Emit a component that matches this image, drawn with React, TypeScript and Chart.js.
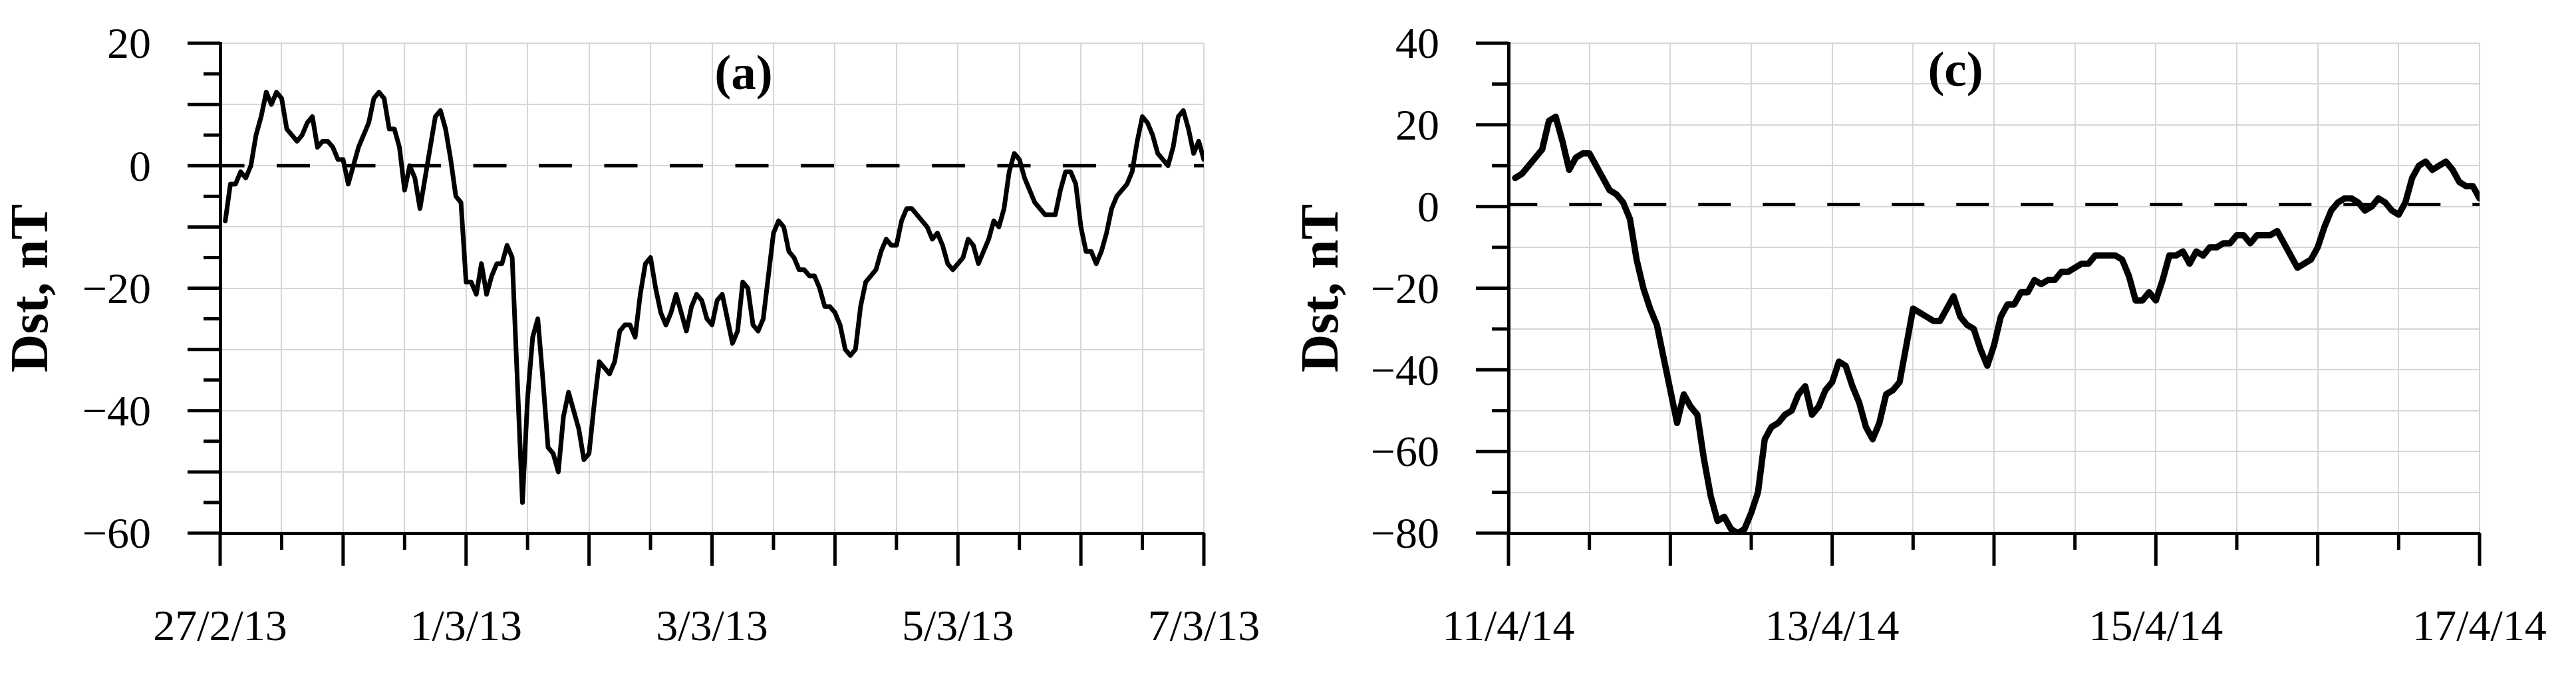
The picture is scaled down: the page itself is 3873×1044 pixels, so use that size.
import React, { useEffect, useRef } from 'react';
import { Chart, registerables } from 'chart.js';

Chart.register(...registerables);

const FONT = "'Liberation Serif', 'Times New Roman', serif";

// Hourly Dst (nT), hours 1..192 from 27/2/13 00 UT
const dstA: number[] = [
  -9, -3, -3, -1, -2, 0, 5, 8, 12, 10, 12, 11, 6, 5, 4, 5, 7, 8, 3, 4, 4, 3, 1, 1,
  -3, 0, 3, 5, 7, 11, 12, 11, 6, 6, 3, -4, 0, -2, -7, -2, 3, 8, 9, 6, 1, -5, -6, -19,
  -19, -21, -16, -21, -18, -16, -16, -13, -15, -35, -55, -38, -28, -25, -35, -46, -47, -50, -41, -37, -40, -43, -48, -47,
  -39, -32, -33, -34, -32, -27, -26, -26, -28, -21, -16, -15, -20, -24, -26, -24, -21, -24, -27, -23, -21, -22, -25, -26,
  -22, -21, -25, -29, -27, -19, -20, -26, -27, -25, -18, -11, -9, -10, -14, -15, -17, -17, -18, -18, -20, -23, -23, -24,
  -26, -30, -31, -30, -23, -19, -18, -17, -14, -12, -13, -13, -9, -7, -7, -8, -9, -10, -12, -11, -13, -16, -17, -16,
  -15, -12, -13, -16, -14, -12, -9, -10, -7, -1, 2, 1, -2, -4, -6, -7, -8, -8, -8, -4, -1, -1, -3, -10,
  -14, -14, -16, -14, -11, -7, -5, -4, -3, -1, 4, 8, 7, 5, 2, 1, 0, 3, 8, 9, 6, 2, 4, 1,
];

// Hourly Dst (nT), hours 1..144 from 11/4/14 00 UT
const dstC: number[] = [
  7, 8, 10, 12, 14, 21, 22, 16, 9, 12, 13, 13, 10, 7, 4, 3, 1, -3, -13, -20, -25, -29, -37, -45,
  -53, -46, -49, -51, -62, -71, -77, -76, -79, -80, -79, -75, -70, -57, -54, -53, -51, -50, -46, -44, -51, -49, -45, -43,
  -38, -39, -44, -48, -54, -57, -53, -46, -45, -43, -34, -25, -26, -27, -28, -28, -25, -22, -27, -29, -30, -35, -39, -34,
  -27, -24, -24, -21, -21, -18, -19, -18, -18, -16, -16, -15, -14, -14, -12, -12, -12, -12, -13, -17, -23, -23, -21, -23,
  -18, -12, -12, -11, -14, -11, -12, -10, -10, -9, -9, -7, -7, -9, -7, -7, -7, -6, -9, -12, -15, -14, -13, -10,
  -5, -1, 1, 2, 2, 1, -1, 0, 2, 1, -1, -2, 1, 7, 10, 11, 9, 10, 11, 9, 6, 5, 5, 2,
];

const xLabelsA = ['27/2/13', '1/3/13', '3/3/13', '5/3/13', '7/3/13'];
const xLabelsC = ['11/4/14', '13/4/14', '15/4/14', '17/4/14'];
const yRangeA = [-60, 20];
const yRangeC = [-80, 40];
const panelNames = ['(a)', '(c)'];

const fmt = (v: number) => (v < 0 ? '\u2212' + Math.abs(v) : String(v));

const panelLabelPlugin = {
  id: 'panelLabel',
  afterDatasetsDraw(chart: any, _args: any, opts: any) {
    const { ctx, chartArea } = chart;
    ctx.save();
    ctx.font = `bold 75px ${FONT}`;
    ctx.fillStyle = '#000';
    ctx.textAlign = 'center';
    ctx.textBaseline = 'alphabetic';
    ctx.fillText(opts.text, chartArea.left + opts.dx, opts.y);
    ctx.restore();
  },
};

const tickMarksPlugin = {
  id: 'tickMarks',
  afterDraw(chart: any, _args: any, opts: any) {
    const { ctx, chartArea } = chart;
    const x = chart.scales.x;
    const y = chart.scales.y;
    ctx.save();
    ctx.strokeStyle = '#000';
    ctx.lineWidth = 5;
    ctx.lineCap = 'butt';
    for (let v = x.min; v <= x.max + 1e-9; v += opts.xMinor) {
      const px = x.getPixelForValue(v);
      const len = Math.abs(v % opts.xMajor) < 1e-9 ? 49 : 25;
      ctx.beginPath();
      ctx.moveTo(px, chartArea.bottom);
      ctx.lineTo(px, chartArea.bottom + len);
      ctx.stroke();
    }
    for (let v = y.min; v <= y.max + 1e-9; v += opts.yMinor) {
      const py = y.getPixelForValue(v);
      const len = Math.abs(v % opts.yMajor) < 1e-9 ? 49 : 25;
      ctx.beginPath();
      ctx.moveTo(chartArea.left - len, py);
      ctx.lineTo(chartArea.left, py);
      ctx.stroke();
    }
    ctx.restore();
  },
};

type Panel = {
  values: number[];
  xLabels: string[];
  yRange: number[];
  name: string;
  width: number;
  yWidth: number;
  padRight: number;
  lineWidth: number;
  zero: number;
  dash: number[];
  dashOffset: number;
  titlePad: number;
  labelDx: number;
  labelY: number;
  yMinor: number;
  yMajor: number;
};

function makeConfig(p: Panel): any {
  const xMax = p.values.length;
  return {
    type: 'line',
    data: {
      datasets: [
        {
          data: p.values.map((v, i) => ({ x: i + 1, y: v })),
          borderColor: '#000',
          borderWidth: p.lineWidth,
          pointRadius: 0,
          tension: 0,
          borderJoinStyle: 'round',
          borderCapStyle: 'round',
          order: 0,
        },
        {
          data: [
            { x: 0, y: p.zero },
            { x: xMax, y: p.zero },
          ],
          borderColor: '#000',
          borderWidth: 5,
          borderDash: p.dash,
          borderDashOffset: p.dashOffset,
          pointRadius: 0,
          order: 1,
        },
      ],
    },
    options: {
      animation: false,
      responsive: false,
      devicePixelRatio: 1,
      layout: { padding: { top: 65, right: p.padRight, left: 0, bottom: 0 } },
      plugins: {
        legend: { display: false },
        tooltip: { enabled: false },
        panelLabel: { text: p.name, dx: p.labelDx, y: p.labelY },
        tickMarks: { xMinor: 12, xMajor: 24, yMinor: p.yMinor, yMajor: p.yMajor },
      },
      scales: {
        x: {
          type: 'linear',
          min: 0,
          max: xMax,
          afterFit: (s: any) => {
            s.height = 242;
          },
          ticks: {
            stepSize: 12,
            autoSkip: false,
            maxRotation: 0,
            minRotation: 0,
            padding: 0,
            color: '#000',
            font: { family: FONT, size: 66 },
            callback: (v: any) => (v % 48 === 0 ? p.xLabels[v / 48] ?? '' : ''),
          },
          grid: {
            color: '#d6d6d6',
            lineWidth: 2,
            drawTicks: true,
            tickLength: 104,
            tickColor: 'rgba(0,0,0,0)',
          },
          border: { display: true, color: '#000', width: 5 },
        },
        y: {
          type: 'linear',
          min: p.yRange[0],
          max: p.yRange[1],
          afterFit: (s: any) => {
            s.width = p.yWidth;
          },
          ticks: {
            stepSize: 10,
            autoSkip: false,
            padding: 0,
            labelOffset: 5,
            color: '#000',
            font: { family: FONT, size: 66 },
            callback: (v: any) => (v % 20 === 0 ? fmt(v) : ''),
          },
          grid: {
            color: '#d6d6d6',
            lineWidth: 2,
            drawTicks: true,
            tickLength: 104,
            tickColor: 'rgba(0,0,0,0)',
          },
          border: { display: true, color: '#000', width: 5 },
          title: {
            display: true,
            text: 'Dst, nT',
            color: '#000',
            font: { family: FONT, size: 80, weight: 'bold' },
            padding: { top: p.titlePad, bottom: 0 },
          },
        },
      },
    },
    plugins: [panelLabelPlugin, tickMarksPlugin],
  };
}

const panels: Panel[] = [
  {
    values: dstA,
    xLabels: xLabelsA,
    yRange: yRangeA,
    name: panelNames[0],
    width: 1935,
    yWidth: 331,
    padRight: 125,
    lineWidth: 7,
    zero: 0,
    dash: [50, 48.5],
    dashOffset: 13.5,
    titlePad: 2,
    labelDx: 787,
    labelY: 134,
    yMinor: 5,
    yMajor: 10,
  },
  {
    values: dstC,
    xLabels: xLabelsC,
    yRange: yRangeC,
    name: panelNames[1],
    width: 1938,
    yWidth: 333,
    padRight: 145,
    lineWidth: 9.5,
    zero: 0.5,
    dash: [49, 48],
    dashOffset: 5.7,
    titlePad: 7,
    labelDx: 672,
    labelY: 129,
    yMinor: 10,
    yMajor: 20,
  },
];

function ChartPanel({ panel, left }: { panel: Panel; left: number }) {
  const ref = useRef<HTMLCanvasElement | null>(null);
  useEffect(() => {
    if (!ref.current) return;
    const chart = new Chart(ref.current, makeConfig(panel));
    return () => chart.destroy();
  }, [panel]);
  return (
    <canvas
      ref={ref}
      width={panel.width}
      height={1044}
      style={{ position: 'absolute', left, top: 0, width: panel.width, height: 1044 }}
    />
  );
}

export default function App() {
  return (
    <div
      style={{
        position: 'absolute',
        left: 0,
        top: 0,
        width: 3873,
        height: 1044,
        background: '#fff',
        overflow: 'hidden',
      }}
    >
      <ChartPanel panel={panels[0]} left={0} />
      <ChartPanel panel={panels[1]} left={1935} />
    </div>
  );
}
